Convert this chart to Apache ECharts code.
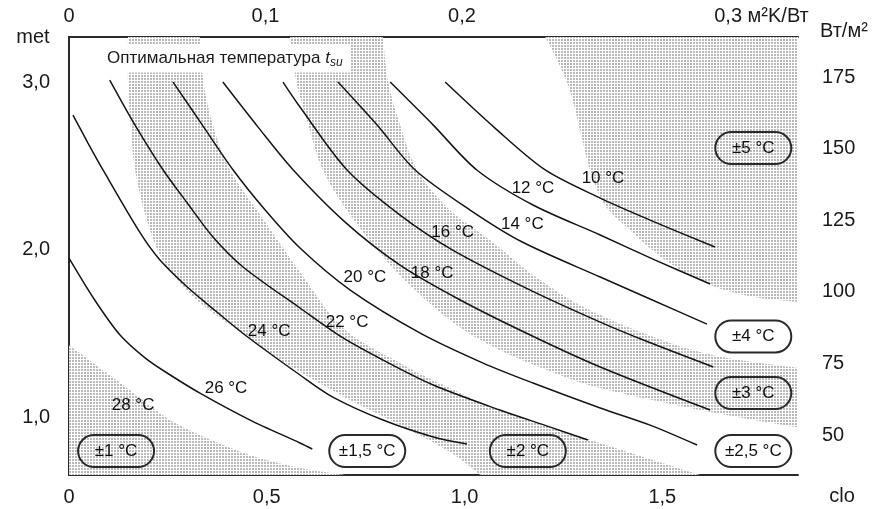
<!DOCTYPE html>
<html><head><meta charset="utf-8">
<script src="https://cdn.jsdelivr.net/npm/echarts@6/dist/echarts.min.js"></script>
<style>html,body{margin:0;padding:0;background:#fff}#c{width:879px;height:509px}</style>
</head><body><div id="c"></div>
<script>
// ---------- axes ----------
const cloRange = [0, 1.843];
const resistRange = [0, 0.371];
const metRange = [0.654, 3.269];
const wattRange = [36.03, 188.97];
const cloTicks = [0, 0.5, 1, 1.5];
const resistTicks = [0, 0.1, 0.2, 0.3];
const metTicks = [1, 2, 3];
const wattTicks = [50, 75, 100, 125, 150, 175];

// ---------- optimal temperature curves [clo, met] ----------
const curve10 = [[0.951,3.0],[1.077,2.725],[1.204,2.475],[1.343,2.307],[1.469,2.176],[1.633,2.015]];
const curve12 = [[0.812,3.0],[0.921,2.743],[1.031,2.475],[1.173,2.266],[1.343,2.087],[1.482,1.937],[1.621,1.794]];
const curve14 = [[0.680,3.0],[0.779,2.743],[0.875,2.475],[1.014,2.236],[1.146,2.045],[1.343,1.836],[1.469,1.705],[1.613,1.555]];
const curve16 = [[0.541,3.0],[0.584,2.851],[0.703,2.475],[0.837,2.206],[0.970,1.997],[1.166,1.758],[1.343,1.567],[1.452,1.460],[1.629,1.299]];
const curve18 = [[0.389,3.0],[0.478,2.731],[0.567,2.475],[0.698,2.164],[0.837,1.907],[0.989,1.699],[1.166,1.490],[1.343,1.299],[1.621,1.042]];
const curve20 = [[0.263,3.0],[0.339,2.737],[0.415,2.475],[0.496,2.236],[0.584,2.009],[0.711,1.758],[0.888,1.501],[1.047,1.322],[1.173,1.203],[1.343,1.054],[1.469,0.952],[1.588,0.833]];
const curve22 = [[0.103,3.012],[0.167,2.743],[0.238,2.475],[0.299,2.278],[0.364,2.075],[0.440,1.896],[0.584,1.651],[0.693,1.472],[0.794,1.340],[0.921,1.191],[1.089,1.042],[1.217,0.940],[1.312,0.863]];
const curve24 = [[0.010,2.803],[0.048,2.636],[0.086,2.475],[0.180,2.099],[0.230,1.937],[0.299,1.776],[0.374,1.627],[0.445,1.490],[0.584,1.251],[0.667,1.119],[0.794,0.982],[0.921,0.881],[1.006,0.839]];
const curve26 = [[0,1.949],[0.065,1.699],[0.129,1.490],[0.193,1.352],[0.248,1.263],[0.331,1.143],[0.458,0.982],[0.584,0.845],[0.615,0.809]];

// ---------- curve labels ----------
const curveLabels = ['10 °C','12 °C','14 °C','16 °C','18 °C','20 °C','22 °C','24 °C','26 °C','28 °C'];
const labelClo = [1.350,1.173,1.146,0.970,0.918,0.748,0.703,0.506,0.397,0.162];
const labelMet = [2.427,2.367,2.152,2.104,1.860,1.836,1.567,1.513,1.173,1.072];

// ---------- tolerance range boxes ----------
const rangeLabels = ['±1 °C','±1,5 °C','±2 °C','±2,5 °C','±3 °C','±4 °C','±5 °C'];
const rangeClo = [0.119,0.754,1.160,1.730,1.730,1.730,1.730];
const rangeMet = [0.797,0.797,0.797,0.797,1.143,1.481,2.606];

// ---------- tolerance band edges [clo, met] ----------
const edge1 = [[0,1.430],[0.078,1.293],[0.154,1.161],[0.248,0.994],[0.331,0.893],[0.458,0.773],[0.584,0.696],[0.698,0.654]];
const edge2 = [[0.149,3.269],[0.149,3.012],[0.157,2.713],[0.167,2.475],[0.193,2.206],[0.230,1.967],[0.281,1.800],[0.344,1.657],[0.419,1.531],[0.496,1.400],[0.584,1.269],[0.711,1.101],[0.837,0.952],[0.963,0.791],[1.040,0.654]];
const edge3 = [[0.331,3.269],[0.339,3.012],[0.364,2.743],[0.407,2.475],[0.496,2.164],[0.584,1.866],[0.693,1.531],[0.837,1.322],[0.963,1.173],[1.089,1.042],[1.343,0.845],[1.595,0.654]];
const edge4 = [[0.559,3.269],[0.574,3.012],[0.605,2.743],[0.642,2.475],[0.711,2.206],[0.824,1.878],[0.963,1.579],[1.089,1.400],[1.241,1.251],[1.343,1.173],[1.595,1.042],[1.843,0.937]];
const edge5 = [[0.794,3.269],[0.806,3.012],[0.837,2.743],[0.880,2.475],[0.963,2.236],[1.064,2.057],[1.191,1.818],[1.343,1.609],[1.595,1.388],[1.843,1.293]];
const edge6 = [[1.204,3.269],[1.234,3.131],[1.266,2.952],[1.292,2.713],[1.317,2.475],[1.355,2.266],[1.418,2.116],[1.507,1.937],[1.621,1.788],[1.734,1.716],[1.843,1.687]];

const FONT = 'Liberation Sans, Arial, Helvetica, sans-serif';
const INK = '#1a1a1a';

// dotted screen pattern
const pc = document.createElement('canvas');
pc.width = 3; pc.height = 3;
const pctx = pc.getContext('2d');
pctx.fillStyle = '#ffffff'; pctx.fillRect(0,0,3,3);
pctx.fillStyle = '#bababa'; pctx.fillRect(0,0,2,2);
const dotFill = {image: pc, repeat: 'repeat'};

function spline(pts, steps) {
  const out = [];
  for (let i = 0; i < pts.length - 1; i++) {
    const p0 = pts[i-1] || pts[i], p1 = pts[i], p2 = pts[i+1], p3 = pts[i+2] || pts[i+1];
    for (let s = 0; s < steps; s++) {
      const t = s/steps, t2 = t*t, t3 = t2*t;
      out.push([0,1].map(k => 0.5*((2*p1[k]) + (-p0[k]+p2[k])*t + (2*p0[k]-5*p1[k]+4*p2[k]-p3[k])*t2 + (-p0[k]+3*p1[k]-3*p2[k]+p3[k])*t3)));
    }
  }
  out.push(pts[pts.length-1]);
  return out;
}
function bandSeries(name, build) {
  return {
    name, type: 'custom', coordinateSystem: 'cartesian2d', xAxisIndex: 0, yAxisIndex: 0,
    silent: true, z: 1, clip: true, data: [[0, 0]],
    renderItem: (params, api) => {
      const c = p => api.coord(p);
      return {type: 'polygon', shape: {points: build(c)}, style: {fill: dotFill, stroke: null}};
    }
  };
}
const bands = [
  bandSeries('±1', c => spline(edge1.map(c), 10).concat([c([cloRange[0], metRange[0]])])),
  bandSeries('±2', c => spline(edge2.map(c), 10).concat(spline(edge3.map(c), 10).reverse())),
  bandSeries('±3', c => spline(edge4.map(c), 10).concat(spline(edge5.map(c), 10).reverse())),
  bandSeries('±5', c => spline(edge6.map(c), 10).concat([c([cloRange[1], metRange[1]])]))
];

const curves = [curve10, curve12, curve14, curve16, curve18, curve20, curve22, curve24, curve26];
const lineSeries = curves.map(d => ({
  type: 'line', data: d, smooth: 0.3, showSymbol: false, silent: true, z: 3,
  lineStyle: {color: '#151515', width: 1.5}
}));

const comma = v => v === 0 ? '0' : v.toFixed(1).replace('.', ',');
const axisLine = {show: true, lineStyle: {color: '#2a2a2a', width: 2}};
const lab = {color: INK, fontSize: 20, fontFamily: FONT};
const txt = (text, x, y, align) => ({type: 'text', x, y, z: 10, silent: true,
  style: {text, font: '20px ' + FONT, fill: INK, align, textAlign: align, verticalAlign: 'middle', textVerticalAlign: 'middle'}});

const option = {
  animation: false,
  backgroundColor: '#fff',
  grid: {left: 69, right: 81, top: 37, bottom: 34, containLabel: false},
  title: {
    text: 'Оптимальная температура {t|t}{s|su}',
    left: 100, top: 44, backgroundColor: '#fff', padding: [4, 8, 4, 7],
    textStyle: {fontSize: 17, fontWeight: 'normal', color: INK, fontFamily: FONT, lineHeight: 20,
      rich: {t: {fontStyle: 'italic', fontSize: 17, color: INK, fontFamily: FONT},
             s: {fontStyle: 'italic', fontSize: 12, color: INK, fontFamily: FONT, padding: [9, 0, 0, 0]}}}
  },
  xAxis: [
    {type: 'value', position: 'bottom', min: cloRange[0], max: cloRange[1],
     axisLine, axisTick: {show: false}, splitLine: {show: false},
     axisLabel: Object.assign({customValues: cloTicks, formatter: comma, margin: 12}, lab)},
    {type: 'value', position: 'top', min: resistRange[0], max: resistRange[1],
     axisLine, axisTick: {show: false}, splitLine: {show: false},
     axisLabel: Object.assign({customValues: resistTicks, margin: 11,
       formatter: v => v === 0.3 ? '{u|0,3 м²K/Вт}' : comma(v),
       rich: {u: {color: INK, fontSize: 20, fontFamily: FONT, padding: [0, 0, 0, 206]}}}, lab)}
  ],
  yAxis: [
    {type: 'value', position: 'left', min: metRange[0], max: metRange[1],
     axisLine, axisTick: {show: false}, splitLine: {show: false},
     axisLabel: Object.assign({customValues: metTicks, formatter: comma, margin: 19}, lab)},
    {type: 'value', position: 'right', min: wattRange[0], max: wattRange[1],
     axisLine, axisTick: {show: false}, splitLine: {show: false},
     axisLabel: Object.assign({customValues: wattTicks, formatter: v => String(v), margin: 24}, lab)}
  ],
  graphic: [
    txt('met', 33, 37, 'center'),
    txt('clo', 842, 496, 'center'),
    txt('Вт/м²', 820, 31, 'left')
  ],
  series: [
    ...bands,
    ...lineSeries,
    {type: 'scatter', symbolSize: 0, silent: true, z: 5,
     itemStyle: {opacity: 1},
     data: curveLabels.map((t, i) => ({name: t, value: [labelClo[i], labelMet[i]]})),
     label: {show: true, position: 'inside', formatter: p => p.name, color: '#111', opacity: 1,
       textBorderWidth: 0, fontSize: 17, fontFamily: FONT}},
    {type: 'scatter', symbolSize: 0, silent: true, z: 6,
     itemStyle: {opacity: 1},
     data: rangeLabels.map((t, i) => ({name: t, value: [rangeClo[i], rangeMet[i]]})),
     label: {show: true, position: 'inside', formatter: p => p.name, color: '#111', opacity: 1,
       textBorderWidth: 0, fontSize: 17, fontFamily: FONT,
       width: 76, height: 32, lineHeight: 32, align: 'center', verticalAlign: 'middle',
       borderColor: '#2a2a2a', borderWidth: 1, borderRadius: 16, backgroundColor: 'transparent'}}
  ]
};
const chart = echarts.init(document.getElementById('c'), null, {renderer: 'canvas'});
chart.setOption(option);
</script></body></html>
